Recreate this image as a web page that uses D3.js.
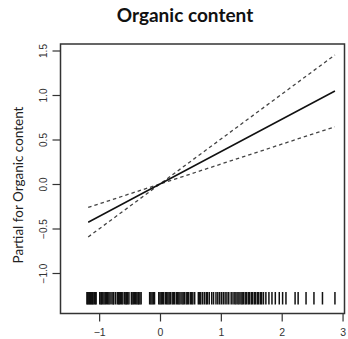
<!DOCTYPE html>
<html>
<head>
<meta charset="utf-8">
<script src="https://cdn.jsdelivr.net/npm/d3@7"></script>
<style>
  html, body { margin: 0; padding: 0; background: #fff; }
  svg { display: block; }
</style>
</head>
<body>
<svg id="chart" width="348" height="339"></svg>
<script>
// ---- data ----
const titleText = "Organic content";
const yTitle = "Partial for Organic content";
const xTicks = [-1, 0, 1, 2, 3];
const yTicks = [-1.0, -0.5, 0.0, 0.5, 1.0, 1.5];
// fitted partial effect and +/- 2 SE bands
const fitX = [-1.18, 0.0, 2.875];
const fitY = [-0.43, 0.0, 1.045];
const upperY = [-0.263, 0.0, 1.45];
const lowerY = [-0.595, 0.0, 0.643];
// rug of observed values
const rugX = [
  -1.20, -1.19, -1.17, -1.16, -1.14, -1.13, -1.11, -1.10, -1.08, -1.06, -1.05,
  -0.99, -0.97, -0.96, -0.94, -0.92, -0.90, -0.88, -0.86, -0.84, -0.82,
  -0.79, -0.77, -0.76, -0.73, -0.70, -0.68, -0.67, -0.65, -0.63, -0.61,
  -0.58, -0.56, -0.55, -0.53, -0.51, -0.47, -0.46, -0.44, -0.42,
  -0.40, -0.38, -0.36, -0.35, -0.33, -0.31,
  -0.17, -0.15, -0.13, -0.11, -0.09, -0.02, 0.00, 0.02, 0.04, 0.06, 0.09, 0.11,
  0.13, 0.15, 0.17, 0.20, 0.22, 0.24, 0.27, 0.29, 0.31, 0.33, 0.36, 0.38,
  0.40, 0.43, 0.45, 0.47, 0.50, 0.52, 0.54, 0.57,
  0.63, 0.65, 0.67, 0.70, 0.73, 0.76, 0.78, 0.81, 0.85, 0.88, 0.92, 0.95,
  0.98, 1.01, 1.04, 1.07, 1.10, 1.13, 1.17, 1.20, 1.23, 1.25, 1.28, 1.30,
  1.33, 1.35, 1.37, 1.40, 1.42, 1.45, 1.47, 1.50, 1.52, 1.55, 1.57, 1.60,
  1.62, 1.65, 1.67, 1.70, 1.74, 1.79, 1.84, 1.895, 1.96, 2.015, 2.07,
  2.22, 2.27, 2.40, 2.53, 2.67, 2.875
];

// ---- layout ----
const svg = d3.select("#chart");
const L = 60.5, R = 344.5, T = 44, B = 313.5;
const x = d3.scaleLinear().domain([-1.635, 3.032]).range([L, R]);
const y = d3.scaleLinear().domain([1.573, -1.455]).range([T, B]);

const axisColor = "#333";
const numFont = "'Liberation Sans', Arial, sans-serif";
const labFont = "Lato, 'Open Sans', sans-serif";

// title
svg.append("text")
  .attr("x", 185).attr("y", 22)
  .attr("text-anchor", "middle")
  .attr("font-family", labFont)
  .attr("font-weight", "bold")
  .attr("font-size", 19)
  .attr("fill", "#111")
  .text(titleText);

// y-axis title
svg.append("text")
  .attr("transform", "translate(18,185) rotate(-90)")
  .attr("text-anchor", "middle")
  .attr("dy", "0.35em")
  .attr("font-family", labFont)
  .attr("font-size", 13.5)
  .attr("fill", "#222")
  .text(yTitle);

// rug
svg.append("g")
  .selectAll("line")
  .data(rugX)
  .join("line")
  .attr("x1", d => x(d)).attr("x2", d => x(d))
  .attr("y1", 292).attr("y2", 304.5)
  .attr("stroke", "#111")
  .attr("stroke-width", 1.5);

// lines
const pts = (ys) => fitX.map((v, i) => [v, ys[i]]);
const line = d3.line().x(d => x(d[0])).y(d => y(d[1]));

svg.append("path")
  .attr("d", line(pts(upperY)))
  .attr("fill", "none").attr("stroke", "#444")
  .attr("stroke-width", 1.3).attr("stroke-dasharray", "3.5,3");
svg.append("path")
  .attr("d", line(pts(lowerY)))
  .attr("fill", "none").attr("stroke", "#444")
  .attr("stroke-width", 1.3).attr("stroke-dasharray", "3.5,3");
svg.append("path")
  .attr("d", line(pts(fitY)))
  .attr("fill", "none").attr("stroke", "#111")
  .attr("stroke-width", 1.5);

// axes
const xAxis = d3.axisBottom(x).tickValues(xTicks).tickSize(8).tickPadding(7)
  .tickFormat(d => d < 0 ? "\u2212" + Math.abs(d) : String(d));
const gx = svg.append("g").attr("transform", `translate(0,${B})`).call(xAxis);
gx.select(".domain").remove();
gx.selectAll(".tick line").attr("stroke", axisColor).attr("stroke-width", 1.2);
gx.selectAll(".tick text")
  .attr("font-family", numFont).attr("font-size", 10.5).attr("fill", "#333");

const yAxis = d3.axisLeft(y).tickValues(yTicks).tickSize(8).tickPadding(0)
  .tickFormat(d => (d < 0 ? "\u2212" : "") + Math.abs(d).toFixed(1));
const gy = svg.append("g").attr("transform", `translate(${L},0)`).call(yAxis);
gy.select(".domain").remove();
gy.selectAll(".tick line").attr("stroke", axisColor).attr("stroke-width", 1.2);
gy.selectAll(".tick text")
  .attr("font-family", numFont).attr("font-size", 10).attr("fill", "#333")
  .attr("x", null).attr("dy", null)
  .attr("text-anchor", "middle")
  .attr("transform", "translate(-17.5,0) rotate(-90)")
  .attr("dy", "0.35em");

// box
svg.append("rect")
  .attr("x", L).attr("y", T)
  .attr("width", R - L).attr("height", B - T)
  .attr("fill", "none").attr("stroke", axisColor).attr("stroke-width", 1.5);
</script>
</body>
</html>
